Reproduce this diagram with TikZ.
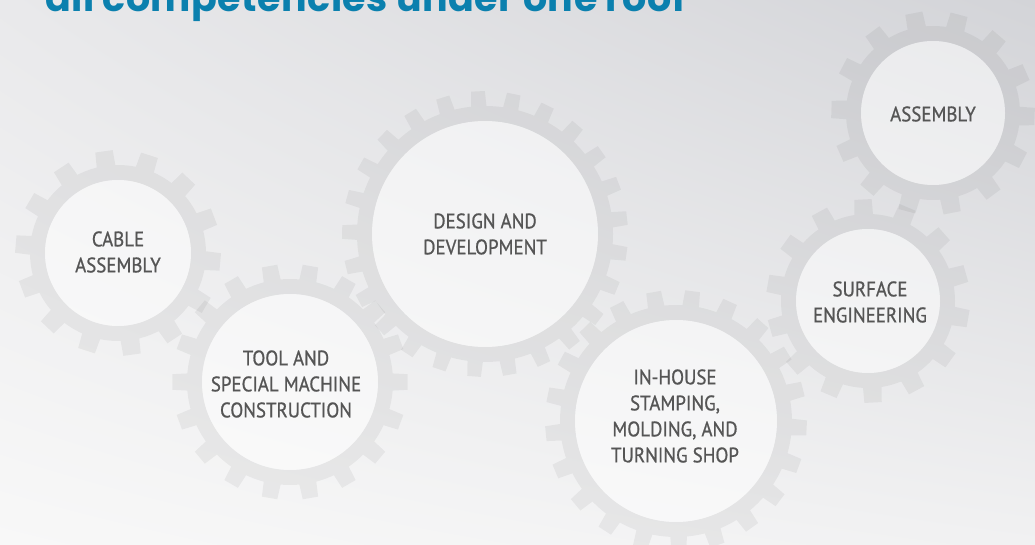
\documentclass[tikz,border=0pt]{standalone}
\usepackage{fontspec}
\usetikzlibrary{shadings}
\newfontfamily\dinfont{PT Sans}[FakeStretch=0.9, FakeBold=0.8]
\newfontfamily\titlefont{Poppins}[LetterSpace=1.2]
\definecolor{bgUL}{HTML}{E9E9EB}
\definecolor{bgUR}{HTML}{D3D4D8}
\definecolor{bgLL}{HTML}{F8F8F8}
\definecolor{bgLR}{HTML}{F1F1F2}
\definecolor{labelgray}{HTML}{555555}
\definecolor{roofblue}{HTML}{0B80AE}
\tikzset{
  gearring/.style={fill=black, fill opacity=0.05},
  gearhub/.style={fill=white, fill opacity=0.5},
  competence/.style={align=center, text=labelgray,
    font=\dinfont\fontsize{21}{26}\selectfont}
}
% center, inner radius, teeth, turn
\newcommand{\gearwheel}[4]{%
  \pgfmathsetmacro{\gri}{#2}
  \pgfmathsetmacro{\gro}{#2+15}
  \pgfmathsetmacro{\grt}{#2+30}
  \pgfmathsetmacro{\gwa}{0.25*360/#3}
  \pgfmathsetmacro{\gwb}{0.19*360/#3}
  \begin{scope}[shift={(#1)}]
    \fill[gearring] (\gro,0) arc[start angle=0, end angle=360, radius=\gro] -- cycle
      (\gri,0) arc[start angle=0, end angle=-360, radius=\gri] -- cycle
      \foreach \k in {1,...,#3}{
        ({#4+\k*360/#3-\gwa}:{\gro-3}) -- ({#4+\k*360/#3-\gwb}:\grt)
        -- ({#4+\k*360/#3+\gwb}:\grt) -- ({#4+\k*360/#3+\gwa}:{\gro-3}) -- cycle};
  \end{scope}
}
\newcommand{\gearhub}[2]{\fill[gearhub] (#1) circle[radius=#2];}
\begin{document}
\begin{tikzpicture}[x=1pt, y=-1pt]
  \useasboundingbox (0,0) rectangle (1035,545);
  \clip (0,0) rectangle (1035,545);
  \shade[upper left=bgUL, upper right=bgUR, lower left=bgLL, lower right=bgLR]
    (0,0) rectangle (1035,545);

  % gear rings
  \gearwheel{118,253}{73}{14}{5}
  \gearwheel{290,382}{88}{18}{0}
  \gearwheel{485,234}{113}{25}{8}
  \gearwheel{676,421}{101}{21}{3}
  \gearwheel{868,301}{72}{14}{10}
  \gearwheel{933,113}{72}{14}{2}

  % hubs
  \gearhub{118,253}{73}
  \gearhub{290,382}{88}
  \gearhub{485,234}{113}
  \gearhub{676,421}{101}
  \gearhub{868,301}{72}
  \gearhub{933,113}{72}

  \node[competence] (cable) at (118,252) {CABLE\\ASSEMBLY};
  \node[competence] (tool) at (286,384) {TOOL AND\\SPECIAL MACHINE\\CONSTRUCTION};
  \node[competence] (design) at (485,234) {DESIGN AND\\DEVELOPMENT};
  \node[competence] (inhouse) at (675,416) {IN-HOUSE\\STAMPING,\\MOLDING, AND\\TURNING SHOP};
  \node[competence] (surface) at (870,302) {SURFACE\\ENGINEERING};
  \node[competence] (assembly) at (933,114) {ASSEMBLY};

  \node[anchor=base west, inner sep=0pt, text=roofblue,
    font=\titlefont\bfseries\fontsize{38}{40}\selectfont] (title) at (45,12)
    {all competencies under one roof};
\end{tikzpicture}
\end{document}
